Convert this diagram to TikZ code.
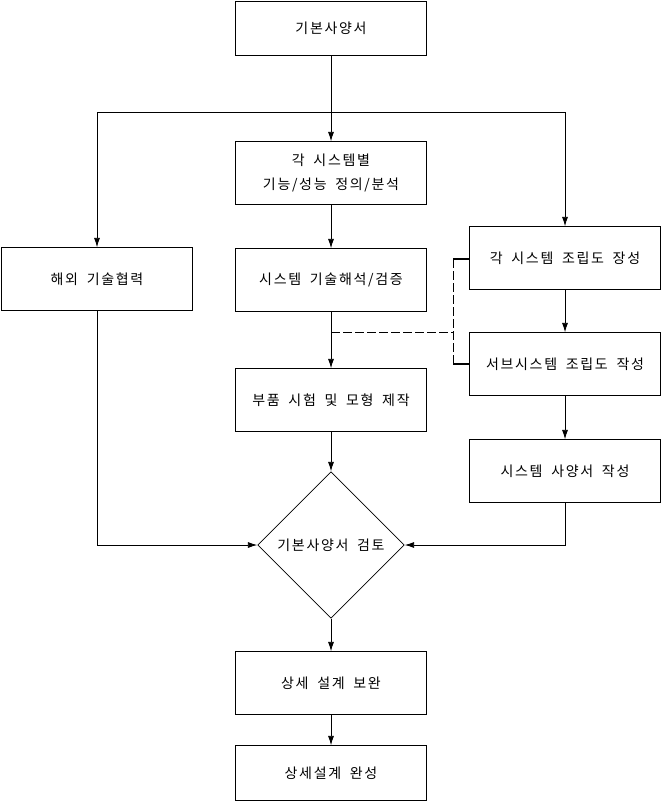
\documentclass[tikz,border=0pt]{standalone}
\usepackage{fontspec}
\setmainfont{Noto Sans CJK KR}[LetterSpace=12,WordSpace=1.8]
\usetikzlibrary{shapes.geometric,arrows.meta}

\tikzset{
  box/.style={rectangle,draw,minimum width=143pt,minimum height=47pt,align=center,font=\fontsize{10.5}{18}\selectfont},
  arr/.style={-{Latex[length=7pt,width=4.5pt]}},
  dashline/.style={dash pattern=on 7pt off 2pt}
}

\begin{document}
\begin{tikzpicture}[x=0.75pt,y=-0.75pt,line width=0.6pt]
    \useasboundingbox (0,0) rectangle (661,802);
    \node at (331,28.5) [box,minimum height=41pt] (a) {기본사양서};
    \node at (331,173) [box] (b) {각 시스템별\\기능/성능 정의/분석};
    \node at (331,280) [box] (c) {시스템 기술해석/검증};
    \node at (331,400) [box] (d) {부품 시험 및 모형 제작};
    \node at (331,545) [diamond,draw,minimum width=110pt,minimum height=110pt,inner sep=0pt,font=\fontsize{10.5}{12}\selectfont] (e) {기본사양서 검토};
    \node at (331,683) [box] (f) {상세 설계 보완};
    \node at (331,773) [box,minimum height=41pt] (g) {상세설계 완성};
    \node at (97,279) [box] (h) {해외 기술협력};
    \node at (565,258) [box] (i) {각 시스템 조립도 장성};
    \node at (565,364) [box] (j) {서브시스템 조립도 작성};
    \node at (565,471) [box] (k) {시스템 사양서 작성};
    \coordinate (s) at (331,112);
    \coordinate (p) at (331,332);
    \coordinate (q) at (453,332);
    \coordinate (q1) at (453,259);
    \coordinate (q2) at (453,364);
    \draw[arr] (a) -- (b);
    \draw[arr] (s) -| (h);
    \draw[arr] (s) -| (i);
    \draw[arr] (b) -- (c);
    \draw[arr] (c) -- (d);
    \draw[arr] (d) -- (e);
    \draw[arr] (e) -- (f);
    \draw[arr] (f) -- (g);
    \draw[arr] (i) -- (j);
    \draw[arr] (j) -- (k);
    \draw[arr] (h) |- (e);
    \draw[arr] (k) |- (e);
    \draw[dashline] (p) -- (q);
    \draw[dashline] (q1) -- (q2);
    \draw[line width=1.2pt] (q1) -- (i.west |- q1) (q2) -- (j.west |- q2);
\end{tikzpicture}
\end{document}
